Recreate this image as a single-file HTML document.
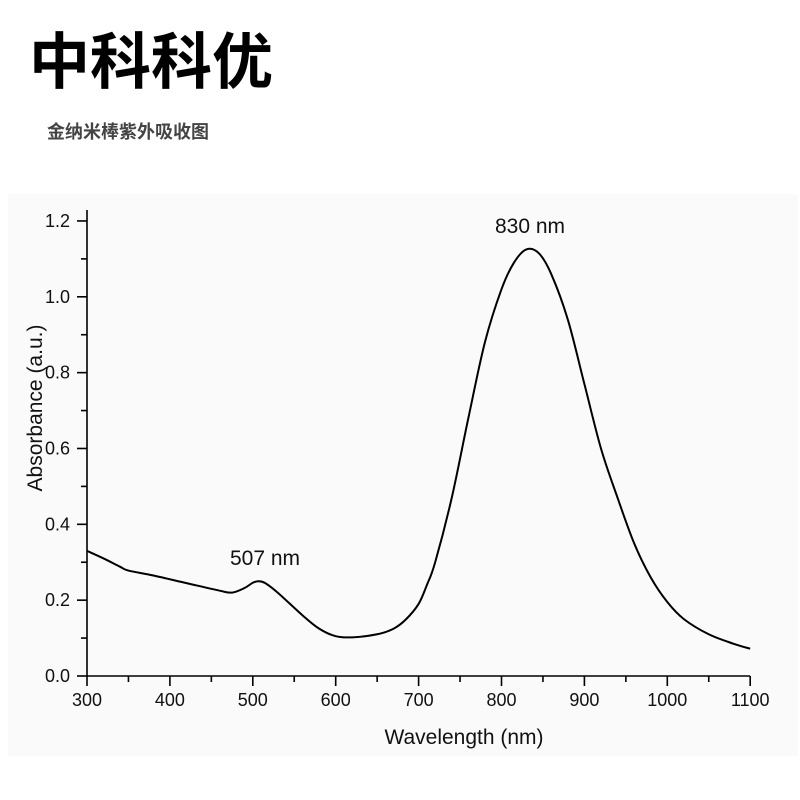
<!DOCTYPE html>
<html><head><meta charset="utf-8"><style>
body{margin:0;width:800px;height:800px;background:#fff;overflow:hidden;font-family:"Liberation Sans","Noto Sans CJK SC",sans-serif}
</style></head><body>
<svg width="800" height="800" xmlns="http://www.w3.org/2000/svg" style="position:absolute;left:0;top:0">
<rect x="8" y="194" width="790" height="562" fill="#fafafa"/>
<text x="29" y="83" font-size="61" font-weight="bold" font-family="'Noto Sans CJK SC',sans-serif" fill="#000">中科科优</text>
<text x="47" y="138" font-size="18" font-weight="bold" font-family="'Noto Sans CJK SC',sans-serif" fill="#444">金纳米棒紫外吸收图</text>
<g stroke="#000" stroke-width="1.6" fill="none" id="ax"></g>
<g font-size="18" fill="#111" id="lb"></g>
<text x="464" y="744" font-size="21" text-anchor="middle" fill="#111">Wavelength (nm)</text>
<text transform="translate(42,408) rotate(-90)" font-size="21" text-anchor="middle" fill="#111">Absorbance (a.u.)</text>
<text x="230" y="565" font-size="21" fill="#111">507 nm</text>
<text x="495" y="233" font-size="21" fill="#111">830 nm</text>
<path id="c" stroke="#000" stroke-width="2" fill="none"/>
</svg>
<script>
var X=w=>87+(w-300)*0.829, Y=a=>676-a*379.2;
var ax=document.getElementById('ax'),lb=document.getElementById('lb'),s='';
s+='<line x1="87" y1="676" x2="750" y2="676"/><line x1="87" y1="210" x2="87" y2="676"/>';
var t='';
for(var w=300;w<=1100;w+=50){var x=X(w);s+='<line x1="'+x+'" y1="676" x2="'+x+'" y2="'+(w%100?682:686)+'"/>';if(w%100==0)t+='<text x="'+x+'" y="706" text-anchor="middle">'+w+'</text>';}
for(var i=0;i<=12;i++){var y=Y(i/10);s+='<line x1="'+(i%2?81:77)+'" y1="'+y+'" x2="87" y2="'+y+'"/>';if(i%2==0)t+='<text x="70" y="'+(y+6)+'" text-anchor="end">'+(i/10).toFixed(1)+'</text>';}
ax.innerHTML=s;lb.innerHTML=t;
var P=[[300,.33],[320,.31],[340,.288],[350,.278],[380,.265],[420,.245],[460,.225],[475,.22],[490,.232],[500,.246],[507,.25],[515,.245],[530,.22],[560,.16],[580,.125],[600,.105],[620,.102],[650,.11],[670,.125],[685,.15],[700,.19],[710,.24],[720,.3],[740,.47],[760,.68],[780,.88],[800,1.02],[815,1.09],[830,1.125],[845,1.115],[860,1.06],[880,.94],[900,.77],[920,.6],[940,.47],[960,.35],[980,.26],[1000,.195],[1020,.15],[1050,.11],[1080,.085],[1100,.072]];
var d='M'+X(P[0][0])+' '+Y(P[0][1]);
for(var i=0;i<P.length-1;i++){var p0=P[Math.max(i-1,0)],p1=P[i],p2=P[i+1],p3=P[Math.min(i+2,P.length-1)];
var a=[X(p1[0]),Y(p1[1])],b=[X(p2[0]),Y(p2[1])],a0=[X(p0[0]),Y(p0[1])],b3=[X(p3[0]),Y(p3[1])];
d+=' C'+(a[0]+(b[0]-a0[0])/6)+' '+(a[1]+(b[1]-a0[1])/6)+' '+(b[0]-(b3[0]-a[0])/6)+' '+(b[1]-(b3[1]-a[1])/6)+' '+b[0]+' '+b[1];}
document.getElementById('c').setAttribute('d',d);
</script>
</body></html>
